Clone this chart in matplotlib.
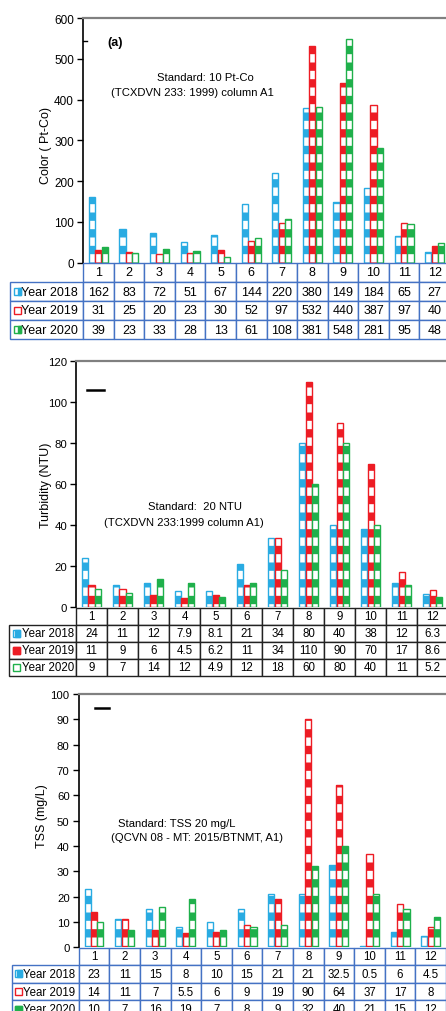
import matplotlib
matplotlib.use('Agg')
import matplotlib.pyplot as plt
from matplotlib.patches import Rectangle
from matplotlib.lines import Line2D
import numpy as np

plt.rcParams['font.family'] = ['Liberation Sans', 'DejaVu Sans']
plt.rcParams['hatch.linewidth'] = 6.0

# ---------------- data ----------------
months = [1, 2, 3, 4, 5, 6, 7, 8, 9, 10, 11, 12]
series_names = ['Year 2018', 'Year 2019', 'Year 2020']

color_2018 = [162, 83, 72, 51, 67, 144, 220, 380, 149, 184, 65, 27]
color_2019 = [31, 25, 20, 23, 30, 52, 97, 532, 440, 387, 97, 40]
color_2020 = [39, 23, 33, 28, 13, 61, 108, 381, 548, 281, 95, 48]

turb_2018 = [24, 11, 12, 7.9, 8.1, 21, 34, 80, 40, 38, 12, 6.3]
turb_2019 = [11, 9, 6, 4.5, 6.2, 11, 34, 110, 90, 70, 17, 8.6]
turb_2020 = [9, 7, 14, 12, 4.9, 12, 18, 60, 80, 40, 11, 5.2]

tss_2018 = [23, 11, 15, 8, 10, 15, 21, 21, 32.5, 0.5, 6, 4.5]
tss_2019 = [14, 11, 7, 5.5, 6, 9, 19, 90, 64, 37, 17, 8]
tss_2020 = [10, 7, 16, 19, 7, 8, 9, 32, 40, 21, 15, 12]

# ---------------- style ----------------
W, H = 446, 1012
SER_COLORS = ['#29ABE2', '#ED1C24', '#1FB04B']
BAR_W = 0.2
OFFS = [-0.21, 0.0, 0.21]

fig = plt.figure(figsize=(W / 100, H / 100), dpi=100)


def px_box(l, t, r, b):
    return [l / W, 1 - b / H, (r - l) / W, (b - t) / H]


panels = [
    dict(data=[color_2018, color_2019, color_2020], ax=(83, 19.3, 450, 263.5),
         tab=(10, 264, 450, 340), ylim=600, ystep=100, ylabel='Color ( Pt-Co)',
         ylab_xy=(46, 146), tick_fs=8.5, tab_fs=9, edge='#4472C4', label_pad=0.15,
         std=[('Standard: 10 Pt-Co', 205, 78), ('(TCXDVN 233: 1999) column A1', 192, 93)],
         fills=[0.5, 0.0, 0.5], marker_x=14),
    dict(data=[turb_2018, turb_2019, turb_2020], ax=(76, 362.3, 448.3, 608.3),
         tab=(9, 608.5, 448.3, 677), ylim=120, ystep=20, ylabel='Turbidity (NTU)',
         ylab_xy=(46, 485), tick_fs=8.2, tab_fs=8.3, edge='#222222', label_pad=0.19,
         std=[('Standard:  20 NTU', 195, 507), ('(TCXDVN 233:1999 column A1)', 184, 523)],
         fills=[0.7, 1.0, 0.0], marker_x=13),
    dict(data=[tss_2018, tss_2019, tss_2020], ax=(78.7, 695, 446, 948.3),
         tab=(11.7, 948.5, 446, 1019), ylim=100, ystep=10, ylabel='TSS (mg/L)',
         ylab_xy=(42, 816), tick_fs=8.2, tab_fs=8.3, edge='#4472C4', label_pad=0.17,
         std=[('Standard: TSS 20 mg/L', 177, 824), ('(QCVN 08 - MT: 2015/BTNMT, A1)', 197, 838)],
         fills=[0.7, 0.0, 1.0], marker_x=15),
]


def fmt(v):
    return '{:g}'.format(v)


for p in panels:
    l, t, r, b = p['ax']
    ax = fig.add_axes(px_box(l, t, r, b))
    x = np.array(months, dtype=float)
    for i, vals in enumerate(p['data']):
        c = SER_COLORS[i]
        ax.bar(x + OFFS[i], vals, width=BAR_W, color=c, edgecolor='white',
               linewidth=0, hatch='-')
        ax.bar(x + OFFS[i], vals, width=BAR_W, fill=False, edgecolor=c, linewidth=1.0)
    ax.set_xlim(0.5, 12.5)
    ax.set_ylim(0, p['ylim'])
    ax.set_yticks(np.arange(0, p['ylim'] + 1, p['ystep']))
    ax.set_xticks([])
    ax.tick_params(axis='y', direction='out', length=4, labelsize=p['tick_fs'], pad=2.5,
                   width=1)
    ax.spines['right'].set_visible(False)
    ax.spines['bottom'].set_visible(False)
    ax.spines['top'].set_color('#808080')
    ax.spines['top'].set_linewidth(1.6)
    ax.spines['left'].set_color('black')
    ax.spines['left'].set_linewidth(1.2)
    ax.patch.set_alpha(0)

    fig.text(p['ylab_xy'][0] / W, 1 - p['ylab_xy'][1] / H, p['ylabel'], rotation=90,
             ha='center', va='center', fontsize=9)
    for txt, tx, ty in p['std']:
        fig.text(tx / W, 1 - ty / H, txt, ha='center', va='center', fontsize=8.1)

    # table
    tl, tt, tr, tb = p['tab']
    tax = fig.add_axes(px_box(tl, tt, tr, tb))
    tax.axis('off')
    label_w = l - tl
    col_w = (r - l) / 12
    cell_text = [[name] + [fmt(v) for v in vals] for name, vals in zip(series_names, p['data'])]
    col_labels = [''] + [str(m) for m in months]
    tab = tax.table(cellText=cell_text, colLabels=col_labels,
                    colWidths=[label_w] + [col_w] * 12, bbox=[0, 0, 1, 1],
                    cellLoc='center')
    tab.auto_set_font_size(False)
    tab.set_fontsize(p['tab_fs'])
    for (ri, ci), cell in tab.get_celld().items():
        cell.set_edgecolor(p['edge'])
        cell.set_linewidth(1.0)
        if ri == 0 and ci == 0:
            cell.visible_edges = 'open'
        if ci == 0 and ri > 0:
            cell._loc = 'left'
            cell.PAD = p['label_pad']
            cell.get_text().set_ha('left')
    # legend markers in label cells
    row_h = (tb - tt) / 4
    for i in range(3):
        cy = tt + row_h * (i + 1.5)
        mx = p['marker_x']
        size = 7
        c = SER_COLORS[i]
        fig.patches.append(Rectangle((mx / W, 1 - (cy + size / 2) / H), size / W, size / H,
                                     transform=fig.transFigure, facecolor='white',
                                     edgecolor=c, linewidth=1.0))
        f = p['fills'][i]
        if f > 0:
            fig.patches.append(Rectangle(((mx + size * (1 - f)) / W, 1 - (cy + size / 2) / H),
                                         size * f / W, size / H, transform=fig.transFigure,
                                         facecolor=c, edgecolor=c, linewidth=1.0))

# decorations
fig.text(115 / W, 1 - 43 / H, '(a)', ha='center', va='center', fontsize=9, fontweight='bold')
fig.lines.append(Line2D([83 / W, 87 / W], [1 - 42 / H, 1 - 42 / H], color='black',
                        linewidth=1.0, transform=fig.transFigure))
fig.lines.append(Line2D([87 / W, 104 / W], [1 - 391.3 / H, 1 - 391.3 / H], color='black',
                        linewidth=1.8, transform=fig.transFigure))
fig.lines.append(Line2D([95 / W, 109 / W], [1 - 709.3 / H, 1 - 709.3 / H], color='black',
                        linewidth=1.8, transform=fig.transFigure))

fig.savefig('out.png', dpi=100)
